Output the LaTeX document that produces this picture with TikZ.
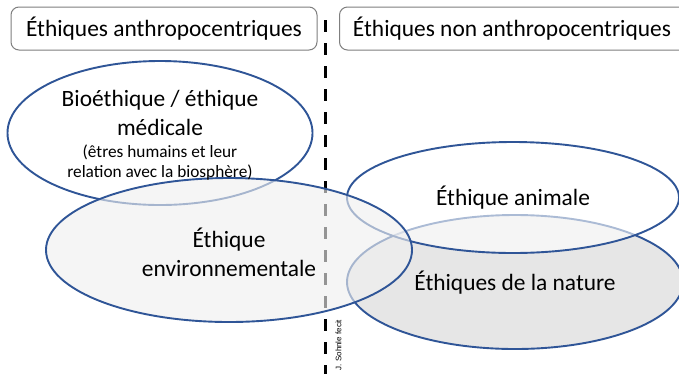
\documentclass[tikz,border=0pt]{standalone}
\usepackage{fontspec}
\setmainfont{Carlito}
\newfontfamily\wmfont{Liberation Sans}
\usetikzlibrary{shapes.geometric}
\definecolor{ellblue}{HTML}{2F5597}
\definecolor{boxgray}{HTML}{7F7F7F}
\definecolor{envfill}{HTML}{F0F0F0}
\definecolor{natfill}{HTML}{D6D6D6}
\tikzset{
  headbox/.style={draw=boxgray, line width=1pt, rounded corners=8pt, fill=white, minimum height=43pt, inner sep=0pt},
  headtxt/.style={font=\fontsize{23.4}{28}\selectfont, inner sep=0pt},
  ell/.style={ellipse, draw=ellblue, line width=1.9pt, inner sep=0pt},
  bigtxt/.style={font=\fontsize{23.4}{27.5}\selectfont, align=center, inner sep=0pt},
  smalltxt/.style={font=\fontsize{17.3}{21}\selectfont, align=center, inner sep=0pt},
  divider/.style={line width=3pt, dash pattern=on 12pt off 11pt}
}
\begin{document}
\begin{tikzpicture}[x=1pt,y=-1pt]
\clip (0,0) rectangle (679,373);
\fill[white] (0,0) rectangle (679,373);
% header boxes
\node[headbox, minimum width=306pt] (box1) at (164,28.5) {};
\node[headtxt] (t1) at (164,29) {Éthiques anthropocentriques};
\node[headbox, minimum width=370pt, anchor=west] (box2) at (339,28.5) {};
\node[headtxt] (t2) at (512,29) {Éthiques non anthropocentriques};
% divider
\coordinate (dtop) at (325,20);
\coordinate (dbot) at (325,380);
\draw[divider] (dtop) -- (dbot);
\node[font=\wmfont\fontsize{8}{9}\selectfont, rotate=90, inner sep=0pt] (wm) at (338.5,345) {J. Sohnle fecit};
% ellipses
\node[ell, fill=white, minimum width=305pt, minimum height=144pt] (bio) at (160,133) {};
\node[ell, fill=natfill, fill opacity=0.6, minimum width=336pt, minimum height=134pt] (nat) at (515,282) {};
\node[ell, fill=white, fill opacity=0.6, minimum width=332pt, minimum height=111pt] (ani) at (513,197.5) {};
\node[ell, fill=envfill, fill opacity=0.62, minimum width=366pt, minimum height=144pt] (env) at (229,250) {};
% texts
\node[bigtxt] (biot1) at (160,100) {Bioéthique / éthique};
\node[bigtxt] (biot2) at (160,127) {médicale};
\node[smalltxt] (biot3) at (160,152) {(êtres humains et leur};
\node[smalltxt] (biot4) at (160,173) {relation avec la biosphère)};
\node[bigtxt] (envt1) at (229,240) {Éthique};
\node[bigtxt] (envt2) at (229,268) {environnementale};
\node[bigtxt] (anit) at (513,198) {Éthique animale};
\node[bigtxt] (natt) at (515,283) {Éthiques de la nature};
\end{tikzpicture}
\end{document}
